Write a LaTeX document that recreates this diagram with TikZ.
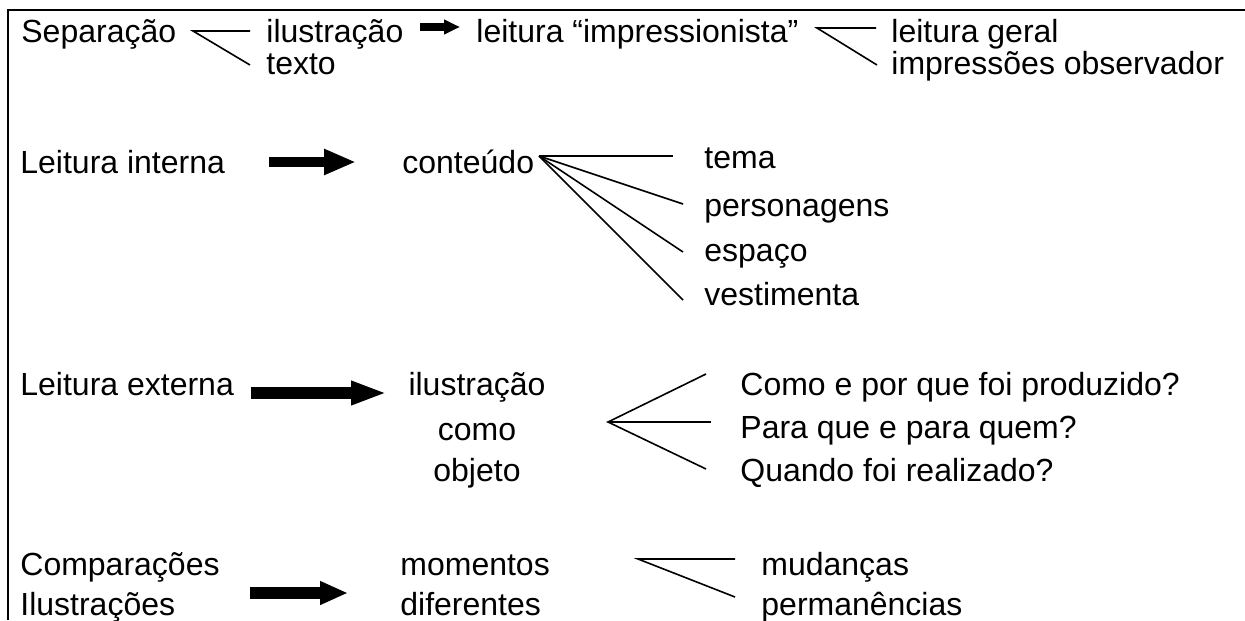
\documentclass[tikz,border=0pt]{standalone}
\usepackage{fontspec}
\setmainfont{Liberation Sans}
\usetikzlibrary{arrows.meta}
\begin{document}
\begin{tikzpicture}[x=0.5pt,y=-0.5pt,
  txt/.style={anchor=base west,inner sep=0pt,font=\fontsize{16pt}{19pt}\selectfont},
  ctxt/.style={txt,anchor=base},
  forkline/.style={line width=0.8pt},
  frame/.style={line width=1pt}]
\useasboundingbox (0,0) rectangle (1245,620);
% frame
\coordinate (fbl) at (8,620);
\coordinate (ftl) at (8,10);
\coordinate (ftr) at (1245,10);
\draw[frame] (fbl) -- (ftl) -- (ftr);

% row 1
\node[txt] (sep) at (21,43) {Separação};
\node[txt] (il1) at (266,43) {ilustração};
\node[txt] (tx1) at (266,75) {texto};
\node[txt] (imp) at (476,43) {leitura “impressionista”};
\node[txt] (lg) at (891,43) {leitura geral};
\node[txt] (io) at (891,75) {impressões observador};
\coordinate (f1a) at (193,31);
\coordinate (f1b) at (250,31);
\coordinate (f1c) at (250,65);
\draw[forkline] (f1b) -- (f1a) -- (f1c);
\coordinate (a1s) at (420,27);
\coordinate (a1e) at (460,27);
\draw[line width=3.6pt,-{Triangle[length=8pt,width=7pt]}] (a1s) -- (a1e);
\coordinate (f2a) at (817,28);
\coordinate (f2b) at (876,28);
\coordinate (f2c) at (877,65);
\draw[forkline] (f2b) -- (f2a) -- (f2c);

% row 2
\node[txt] (lint) at (20,174) {Leitura interna};
\node[txt] (cont) at (402,174) {conteúdo};
\node[txt] (tema) at (704,169) {tema};
\node[txt] (pers) at (704,216) {personagens};
\node[txt] (esp) at (704,261) {espaço};
\node[txt] (vest) at (704,305) {vestimenta};
\coordinate (a2s) at (269,162);
\coordinate (a2e) at (356,162);
\draw[line width=5pt,-{Triangle[length=16pt,width=12pt]}] (a2s) -- (a2e);
\coordinate (f3a) at (539,156);
\coordinate (f3b) at (673,156);
\coordinate (f3c) at (683,204);
\coordinate (f3d) at (683,252);
\coordinate (f3e) at (683,300);
\draw[forkline] (f3a) -- (f3b);
\draw[forkline] (f3a) -- (f3c);
\draw[forkline] (f3a) -- (f3d);
\draw[forkline] (f3a) -- (f3e);

% row 3
\node[txt] (lext) at (20,395) {Leitura externa};
\node[ctxt] (il3) at (477,395) {ilustração};
\node[ctxt] (como) at (477,440) {como};
\node[ctxt] (obj) at (477,481) {objeto};
\node[txt] (q1) at (740,395) {Como e por que foi produzido?};
\node[txt] (q2) at (740,438) {Para que e para quem?};
\node[txt] (q3) at (740,481) {Quando foi realizado?};
\coordinate (a3s) at (251,393);
\coordinate (a3e) at (387,393);
\draw[line width=6pt,-{Triangle[length=18pt,width=11pt]}] (a3s) -- (a3e);
\coordinate (f4a) at (608,422);
\coordinate (f4b) at (706,374);
\coordinate (f4c) at (711,422);
\coordinate (f4d) at (706,469);
\draw[forkline] (f4b) -- (f4a) -- (f4d);
\draw[forkline] (f4a) -- (f4c);

% row 4
\node[txt] (comp) at (20,575) {Comparações};
\node[txt] (ilus) at (20,615) {Ilustrações};
\node[txt] (mom) at (400,575) {momentos};
\node[txt] (dif) at (400,615) {diferentes};
\node[txt] (mud) at (761,575) {mudanças};
\node[txt] (perm) at (761,615) {permanências};
\coordinate (a4s) at (250,593);
\coordinate (a4e) at (348,593);
\draw[line width=6pt,-{Triangle[length=14pt,width=11pt]}] (a4s) -- (a4e);
\coordinate (f5a) at (638,559);
\coordinate (f5b) at (735,559);
\coordinate (f5c) at (735,597);
\draw[forkline] (f5b) -- (f5a) -- (f5c);
\end{tikzpicture}
\end{document}
